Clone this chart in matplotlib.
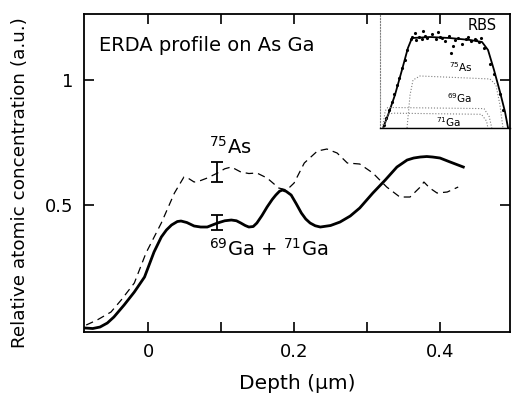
import numpy as np
import matplotlib
matplotlib.use('Agg')
import matplotlib.pyplot as plt

plt.rcParams['font.family'] = ['DejaVu Sans']

# ERDA depth profiles (depth in um, relative concentration)
ga_x = [-0.086, -0.076, -0.066, -0.056, -0.047, -0.033, -0.019, -0.005, 0.008, 0.018,
        0.025, 0.032, 0.040, 0.045, 0.053, 0.063, 0.072, 0.081, 0.095, 0.105,
        0.114, 0.121, 0.127, 0.133, 0.138, 0.144, 0.149, 0.156, 0.163, 0.170,
        0.175, 0.180, 0.184, 0.189, 0.196, 0.203, 0.21, 0.216, 0.222, 0.229,
        0.236, 0.250, 0.263, 0.277, 0.29, 0.308, 0.325, 0.341, 0.355, 0.364,
        0.373, 0.382, 0.39, 0.40, 0.414, 0.432]
ga_y = [0.008, 0.006, 0.012, 0.028, 0.052, 0.10, 0.152, 0.212, 0.312, 0.372,
        0.400, 0.42, 0.434, 0.436, 0.430, 0.416, 0.412, 0.412, 0.428, 0.437,
        0.44, 0.437, 0.428, 0.418, 0.412, 0.414, 0.428, 0.458, 0.492, 0.522,
        0.54, 0.555, 0.56, 0.555, 0.54, 0.505, 0.468, 0.444, 0.428, 0.417,
        0.412, 0.418, 0.432, 0.456, 0.488, 0.548, 0.60, 0.652, 0.68, 0.688,
        0.692, 0.694, 0.692, 0.688, 0.672, 0.652]

as_x = [-0.085, -0.07, -0.051, -0.037, -0.019, -0.003, 0.018, 0.036, 0.049, 0.056,
        0.063, 0.072, 0.081, 0.095, 0.105, 0.114, 0.127, 0.138, 0.149, 0.163,
        0.179, 0.19, 0.2, 0.214, 0.232, 0.245, 0.259, 0.273, 0.29, 0.308,
        0.327, 0.345, 0.359, 0.373, 0.378, 0.386, 0.396, 0.41, 0.425]
as_y = [0.02, 0.04, 0.072, 0.12, 0.188, 0.308, 0.428, 0.548, 0.612, 0.605,
        0.592, 0.598, 0.608, 0.628, 0.645, 0.652, 0.632, 0.626, 0.628, 0.608,
        0.568, 0.56, 0.588, 0.668, 0.716, 0.724, 0.708, 0.668, 0.664, 0.628,
        0.572, 0.532, 0.532, 0.572, 0.592, 0.568, 0.548, 0.552, 0.572]

err_x = [0.095, 0.095]
err_y = [0.632, 0.43]
err_d = [0.04, 0.03]

# RBS inset (arbitrary units)
rbs_x = [0.023, 0.062, 0.115, 0.169, 0.215, 0.246, 0.385, 0.538, 0.692, 0.785,
         0.831, 0.877, 0.923, 0.962, 0.985]
rbs_y = [0.0, 0.114, 0.289, 0.509, 0.702, 0.789, 0.798, 0.789, 0.772, 0.754,
         0.684, 0.509, 0.316, 0.14, 0.0]
dots_x = [0.03, 0.05, 0.07, 0.09, 0.11, 0.13, 0.15, 0.17, 0.19, 0.21, 0.24, 0.27,
          0.30, 0.33, 0.36, 0.40, 0.43, 0.46, 0.50, 0.53, 0.56, 0.60, 0.63, 0.66,
          0.70, 0.73, 0.76, 0.80, 0.85, 0.88, 0.92, 0.95, 0.28, 0.35, 0.45, 0.58,
          0.68, 0.74, 0.78, 0.25, 0.32, 0.48, 0.55]
dots_y = [0.03, 0.09, 0.16, 0.23, 0.30, 0.38, 0.44, 0.53, 0.60, 0.68, 0.78, 0.83,
          0.80, 0.85, 0.79, 0.82, 0.78, 0.80, 0.76, 0.81, 0.72, 0.79, 0.74, 0.78,
          0.76, 0.78, 0.75, 0.70, 0.56, 0.47, 0.30, 0.16, 0.77, 0.81, 0.84, 0.77,
          0.80, 0.77, 0.79, 0.80, 0.78, 0.79, 0.66]
as75_x = [0.208, 0.231, 0.254, 0.308, 0.846, 0.892, 0.923, 0.946]
as75_y = [0.0, 0.289, 0.421, 0.456, 0.43, 0.377, 0.2, 0.0]
ga69_x = [0.02, 0.04, 0.06, 0.80, 0.84, 0.86]
ga69_y = [0.0, 0.15, 0.18, 0.17, 0.10, 0.0]
ga71_x = [0.03, 0.06, 0.10, 0.78, 0.82, 0.83]
ga71_y = [0.0, 0.12, 0.13, 0.12, 0.06, 0.0]

fig = plt.figure(figsize=(5.14, 4.05), dpi=100)
ax = fig.add_axes([0.1634, 0.1802, 0.8288, 0.7852])

ax.plot(ga_x, ga_y, color='black', lw=2.0)
ax.plot(as_x, as_y, color='black', lw=0.9, dashes=(6, 4))
ax.errorbar(err_x, err_y, yerr=err_d, fmt='none', ecolor='black', elinewidth=1.3, capsize=4, capthick=1.3)

ax.set_xlim(-0.088, 0.496)
ax.set_ylim(-0.008, 1.264)
ax.set_xticks([0, 0.1, 0.2, 0.3, 0.4])
ax.set_xticklabels(['0', '', '0.2', '', '0.4'])
ax.set_yticks([0.5, 1])
ax.set_yticklabels(['0.5', '1'])
ax.tick_params(direction='in', length=7, width=1.2, labelsize=13, top=True, right=True, pad=8)
for s in ax.spines.values():
    s.set_linewidth(1.3)

ax.text(-0.068, 1.14, 'ERDA profile on As Ga', fontsize=14, va='center', ha='left')
ax.text(0.112, 0.705, r'$^{75}$As', fontsize=14, ha='center', va='baseline')
ax.text(0.084, 0.295, r'$^{69}$Ga + $^{71}$Ga', fontsize=14, ha='left', va='baseline')

ax.set_xlabel('Depth (μm)', fontsize=14.5, labelpad=9)
ax.set_ylabel('Relative atomic concentration (a.u.)', fontsize=13.2)
ax.yaxis.set_label_coords(-0.13, 0.47)

# inset RBS spectrum
ins = fig.add_axes([0.7393, 0.684, 0.2529, 0.2815])
ins.patch.set_alpha(0)
ins.plot(rbs_x, rbs_y, color='black', lw=1.3)
ins.plot(dots_x, dots_y, 'k.', ms=2.5)
ins.plot(as75_x, as75_y, color='gray', lw=0.8, ls=':')
ins.plot(ga69_x, ga69_y, color='gray', lw=0.8, ls=':')
ins.plot(ga71_x, ga71_y, color='gray', lw=0.8, ls=':')
ins.plot([0.02, 0.985], [0.0, 0.0], color='black', lw=0.8)
ins.text(0.9, 0.9, 'RBS', fontsize=10.5, ha='right', va='center')
ins.text(0.62, 0.53, r'$^{75}$As', fontsize=7.5, ha='center', va='center')
ins.text(0.61, 0.26, r'$^{69}$Ga', fontsize=7.5, ha='center', va='center')
ins.text(0.53, 0.05, r'$^{71}$Ga', fontsize=7.5, ha='center', va='center')
ins.set_xlim(0, 1)
ins.set_ylim(0, 1)
ins.set_xticks([])
ins.set_yticks([])
ins.spines['top'].set_visible(False)
ins.spines['right'].set_visible(False)
ins.spines['bottom'].set_linewidth(1.0)
ins.spines['left'].set_linestyle(':')
ins.spines['left'].set_color('gray')
ins.spines['left'].set_linewidth(0.8)

fig.savefig('out.png', dpi=100)
